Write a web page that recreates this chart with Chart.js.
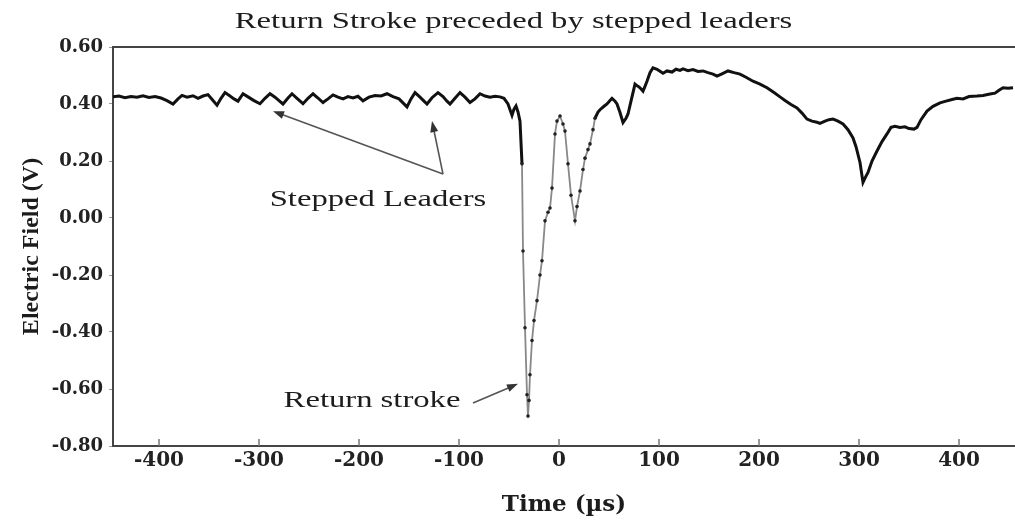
<!DOCTYPE html>
<html>
<head>
<meta charset="utf-8">
<title>Return Stroke preceded by stepped leaders</title>
<script src="https://cdn.jsdelivr.net/npm/chart.js@4.4.1/dist/chart.umd.min.js"></script>
<style>
    body { margin: 0; background: #fff; }
    #wrap { width: 1015px; height: 523px; position: relative; }
</style>
</head>
<body>
<div id="wrap"><canvas id="field-chart"></canvas></div>
<script>
const times = [
    -446, -440, -434, -428, -422, -416, -410, -404, -398, -392,
    -386, -381, -377, -372, -366, -361, -356, -351, -346, -342,
    -338, -334, -329, -325, -321, -316, -311, -305, -299, -294,
    -289, -284, -280, -276, -271, -267, -262, -256, -251, -246,
    -241, -236, -231, -226, -221, -216, -211, -206, -201, -196,
    -190, -184, -178, -172, -166, -160, -156, -152, -148, -144,
    -139, -135, -132, -127, -121, -116, -112, -109, -104, -99,
    -94, -89, -84, -79, -74, -69, -64, -59, -55, -51,
    -47, -45, -43, -41, -39, -37, -36, -34, -32, -31,
    -30, -29, -27, -25, -22, -19, -17, -14, -11, -9,
    -7, -4, -2, 1, 4, 6, 9, 12, 16, 18,
    21, 24, 26, 29, 31, 34, 36, 39, 41, 45,
    48, 51, 53, 56, 58, 61, 64, 67, 69, 72,
    76, 79, 81, 84, 86, 88, 91, 94, 98, 101,
    104, 108, 113, 117, 121, 124, 129, 134, 139, 144,
    149, 154, 158, 163, 169, 175, 181, 187, 194, 201,
    208, 215, 221, 226, 232, 238, 243, 248, 253, 258,
    261, 266, 270, 274, 279, 284, 289, 294, 297, 301,
    304, 306, 309, 313, 318, 323, 328, 332, 336, 341,
    346, 350, 355, 358, 362, 368, 374, 381, 387, 393,
    398, 404, 410, 418, 424, 431, 436, 440, 444, 449,
    454
];
const field = [
    0.425, 0.428, 0.422, 0.426, 0.424, 0.429, 0.423, 0.426, 0.421, 0.412,
    0.400, 0.418, 0.430, 0.424, 0.429, 0.420, 0.428, 0.433, 0.412, 0.396,
    0.420, 0.440, 0.428, 0.418, 0.410, 0.436, 0.425, 0.412, 0.401, 0.420,
    0.436, 0.424, 0.412, 0.400, 0.421, 0.436, 0.420, 0.401, 0.420, 0.436,
    0.421, 0.405, 0.418, 0.432, 0.424, 0.418, 0.426, 0.421, 0.427, 0.411,
    0.424, 0.430, 0.428, 0.436, 0.426, 0.418, 0.404, 0.390, 0.418, 0.440,
    0.424, 0.410, 0.400, 0.422, 0.440, 0.426, 0.410, 0.400, 0.420, 0.440,
    0.424, 0.405, 0.418, 0.436, 0.428, 0.424, 0.427, 0.425, 0.420, 0.400,
    0.360, 0.382, 0.393, 0.372, 0.340, 0.190, -0.116, -0.385, -0.620, -0.695,
    -0.640, -0.550, -0.430, -0.360, -0.290, -0.200, -0.150, -0.010, 0.020, 0.035,
    0.105, 0.295, 0.340, 0.358, 0.330, 0.305, 0.190, 0.080, -0.010, 0.040,
    0.095, 0.170, 0.210, 0.240, 0.260, 0.310, 0.350, 0.372, 0.380, 0.392,
    0.400, 0.412, 0.420, 0.410, 0.400, 0.370, 0.335, 0.350, 0.365, 0.410,
    0.470, 0.462, 0.457, 0.445, 0.462, 0.480, 0.510, 0.527, 0.522, 0.515,
    0.508, 0.516, 0.512, 0.522, 0.518, 0.523, 0.517, 0.521, 0.514, 0.516,
    0.510, 0.505, 0.498, 0.506, 0.516, 0.510, 0.505, 0.494, 0.480, 0.470,
    0.457, 0.440, 0.425, 0.412, 0.398, 0.386, 0.368, 0.347, 0.340, 0.336,
    0.332, 0.340, 0.345, 0.347, 0.340, 0.330, 0.310, 0.281, 0.250, 0.195,
    0.125, 0.140, 0.160, 0.200, 0.235, 0.268, 0.295, 0.318, 0.322, 0.318,
    0.320, 0.314, 0.312, 0.318, 0.345, 0.375, 0.392, 0.404, 0.410, 0.416,
    0.420, 0.418, 0.426, 0.428, 0.430, 0.435, 0.438, 0.448, 0.457, 0.455,
    0.457
];

// Tick labels
const xTicks = [-400, -300, -200, -100, 0, 100, 200, 300, 400];
const yTicks = [-0.8, -0.6, -0.4, -0.2, 0, 0.2, 0.4, 0.6];

// Return-stroke window, drawn as thin grey line with dots
const strokeStart = -38;
const strokeEnd = 37;

const chartTitle = 'Return Stroke preceded by stepped leaders';
const textStretch = 1.36;

// Helpers for the hand-drawn looking labels
function stretchedText(ctx, text, cx, cy, font) {
    ctx.save();
    ctx.translate(cx, cy);
    ctx.scale(textStretch, 1);
    ctx.font = font;
    ctx.fillStyle = '#1c1c1c';
    ctx.textAlign = 'center';
    ctx.textBaseline = 'middle';
    ctx.fillText(text, 0, 0);
    ctx.restore();
}

function arrow(ctx, x0, y0, x1, y1) {
    const ang = Math.atan2(y1 - y0, x1 - x0);
    const len = 11;
    ctx.save();
    ctx.strokeStyle = '#555';
    ctx.fillStyle = '#333';
    ctx.lineWidth = 1.6;
    ctx.beginPath();
    ctx.moveTo(x0, y0);
    ctx.lineTo(x1 - Math.cos(ang) * 6, y1 - Math.sin(ang) * 6);
    ctx.stroke();
    ctx.beginPath();
    ctx.moveTo(x1, y1);
    ctx.lineTo(x1 - len * Math.cos(ang) + 4 * Math.sin(ang), y1 - len * Math.sin(ang) - 4 * Math.cos(ang));
    ctx.lineTo(x1 - len * Math.cos(ang) - 4 * Math.sin(ang), y1 - len * Math.sin(ang) + 4 * Math.cos(ang));
    ctx.closePath();
    ctx.fill();
    ctx.restore();
}

// Title, frame, inner ticks and the two annotations
const decorPlugin = {
    id: 'decor',
    afterDraw(chart) {
        const ctx = chart.ctx;
        const area = chart.chartArea;
        const x = chart.scales.x;
        const y = chart.scales.y;

        stretchedText(ctx, chartTitle, chart.width / 2 + 6, 22, '24px "Liberation Serif"');

        // top frame line
        ctx.save();
        ctx.strokeStyle = '#444';
        ctx.lineWidth = 2;
        ctx.beginPath();
        ctx.moveTo(area.left, area.top);
        ctx.lineTo(area.right, area.top);
        ctx.stroke();

        // x ticks point inwards
        ctx.strokeStyle = '#777';
        ctx.lineWidth = 1.5;
        x.ticks.forEach(t => {
            const px = x.getPixelForValue(t.value);
            ctx.beginPath();
            ctx.moveTo(px, area.bottom);
            ctx.lineTo(px, area.bottom - 7);
            ctx.stroke();
        });
        ctx.restore();

        // Stepped leaders
        const tailX = x.getPixelForValue(-116), tailY = y.getPixelForValue(0.154);
        arrow(ctx, tailX, tailY, x.getPixelForValue(-286), y.getPixelForValue(0.375));
        arrow(ctx, tailX, tailY, x.getPixelForValue(-127), y.getPixelForValue(0.34));
        stretchedText(ctx, 'Stepped Leaders', x.getPixelForValue(-181), y.getPixelForValue(0.063), '24px "Liberation Serif"');

        // Return stroke
        arrow(ctx, x.getPixelForValue(-86), y.getPixelForValue(-0.649), x.getPixelForValue(-41), y.getPixelForValue(-0.582));
        stretchedText(ctx, 'Return stroke', x.getPixelForValue(-187), y.getPixelForValue(-0.642), '24px "Liberation Serif"');
    }
};

function inStroke(v) {
    return v >= strokeStart && v <= strokeEnd;
}

function init() {
    const points = times.map((t, i) => ({ x: t, y: field[i] }));

    new Chart(document.getElementById('field-chart'), {
        type: 'line',
        data: {
            datasets: [{
                data: points,
                borderColor: '#111',
                borderWidth: 3,
                tension: 0,
                pointRadius: c => (c.raw && inStroke(c.raw.x) ? 1.8 : 0),
                pointBackgroundColor: '#222',
                pointBorderWidth: 0,
                segment: {
                    borderColor: c => (inStroke(c.p0.parsed.x) && inStroke(c.p1.parsed.x) ? '#888' : undefined),
                    borderWidth: c => (inStroke(c.p0.parsed.x) && inStroke(c.p1.parsed.x) ? 1.8 : undefined)
                }
            }]
        },
        options: {
            responsive: true,
            maintainAspectRatio: false,
            animation: false,
            layout: { padding: { top: 47, right: 0, bottom: 0, left: 0 } },
            plugins: {
                legend: { display: false },
                tooltip: { enabled: false }
            },
            scales: {
                x: {
                    type: 'linear',
                    min: -446,
                    max: 456,
                    afterBuildTicks: s => { s.ticks = xTicks.map(v => ({ value: v })); },
                    afterFit: s => { s.height = 77; },
                    grid: { display: false, drawTicks: false },
                    border: { display: true, color: '#444', width: 2 },
                    ticks: {
                        padding: 3,
                        color: '#222',
                        font: { family: '"DejaVu Serif"', size: 20, weight: 'bold' }
                    },
                    title: {
                        display: true,
                        text: 'Time (µs)',
                        color: '#1c1c1c',
                        padding: { top: 0, bottom: 4 },
                        font: { family: '"DejaVu Serif"', size: 23, weight: 'bold' }
                    }
                },
                y: {
                    min: -0.8,
                    max: 0.6,
                    afterBuildTicks: s => { s.ticks = yTicks.map(v => ({ value: v })); },
                    afterFit: s => { s.width = 113; },
                    grid: { drawOnChartArea: false, drawTicks: true, tickLength: 4, color: '#999' },
                    border: { display: true, color: '#444', width: 2 },
                    ticks: {
                        padding: 6,
                        color: '#222',
                        font: { family: '"DejaVu Serif"', size: 18, weight: 'bold' },
                        callback: v => v.toFixed(2)
                    },
                    title: {
                        display: true,
                        text: 'Electric Field (V)',
                        color: '#1c1c1c',
                        padding: { top: 17, bottom: 0 },
                        font: { family: '"Liberation Serif"', size: 24, weight: 'bold' }
                    }
                }
            }
        },
        plugins: [decorPlugin]
    });
}

document.addEventListener('DOMContentLoaded', init);
</script>
</body>
</html>
